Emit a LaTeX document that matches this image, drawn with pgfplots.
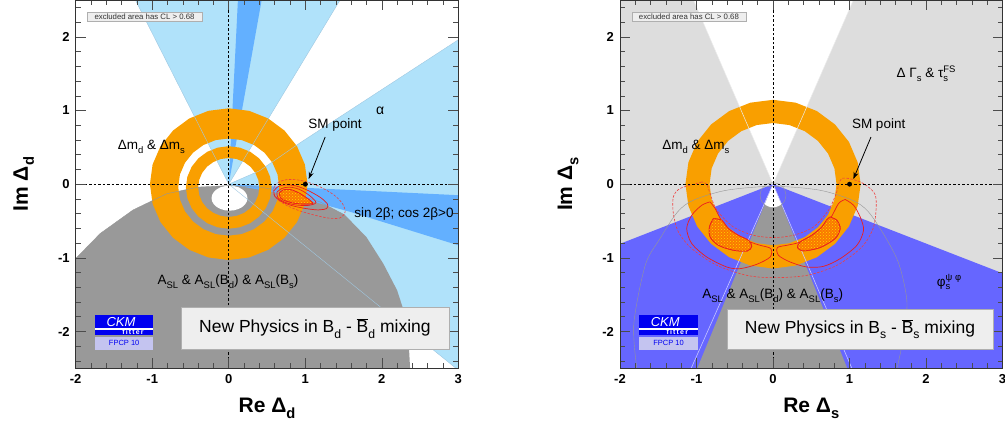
\documentclass[border=0pt]{standalone}
\usepackage{pgfplots}
\pgfplotsset{compat=1.18}
\usepackage{fontspec}
\setmainfont{Liberation Sans}
\usetikzlibrary{patterns,arrows.meta}

\definecolor{lblue}{RGB}{176,226,250}
\definecolor{dblue}{RGB}{99,176,255}
\definecolor{aslgray}{RGB}{153,153,153}
\definecolor{ring}{RGB}{249,159,0}
\definecolor{phiblue}{RGB}{102,102,255}
\definecolor{lgray}{RGB}{221,221,221}
\definecolor{boxgray}{RGB}{238,238,238}
\definecolor{boxedge}{RGB}{175,175,175}
\definecolor{ckmblue}{RGB}{0,0,240}
\definecolor{ckmlav}{RGB}{196,196,240}
\definecolor{redcl}{RGB}{235,30,30}
\definecolor{hatch}{RGB}{250,120,0}
\definecolor{hatchdot}{RGB}{255,215,0}
\definecolor{edgeblue}{RGB}{160,200,225}
\definecolor{edgegray}{RGB}{150,150,150}
\definecolor{lav}{RGB}{200,200,255}

\newcommand\sub[1]{\raisebox{-0.55ex}{\scalebox{0.7}{#1}}}
\newcommand\sups[1]{\raisebox{0.8ex}{\scalebox{0.7}{#1}}}
\newcommand\lbl{\fontsize{13.5}{13.5}\selectfont}

\newcommand\ckmlogo[1]{%
  \begin{scope}[xshift=#1]
    \fill[ckmblue] (95pt,88pt) rectangle (153.3pt,108pt);
    \fill[white] (95pt,93.4pt) rectangle (153.3pt,94.8pt);
    \node[font=\fontsize{13}{13}\selectfont\itshape, text=white, anchor=base] at (121pt,96.5pt) {CKM};
    \node[font=\fontsize{7}{7}\selectfont\bfseries, text=white, anchor=base] at (133pt,88.6pt) {f\,i\,t\,t\,e\,r};
    \fill[ckmlav] (95pt,73pt) rectangle (153.3pt,86.3pt);
    \node[font=\fontsize{7.5}{7.5}\selectfont, text=ckmblue] at (124.2pt,79.6pt) {FPCP 10};
  \end{scope}}

\pgfplotsset{
  ckm/.style={
    scale only axis, width=382.6pt, height=368.3pt,
    xmin=-2, xmax=3, ymin=-2.5, ymax=2.5,
    xtick={-2,-1,0,1,2,3}, xticklabels={-2,-1,0,1,2,3},
    ytick={-2,-1,0,1,2}, yticklabels={-2,-1,0,1,2},
    minor xtick={-1.8,-1.6,...,2.81},
    minor ytick={-2.4,-2.2,...,2.41},
    major tick length=10pt, minor tick length=5pt,
    tick style={black!70, line width=0.5pt},
    axis line style={black!80, line width=0.6pt},
    ticklabel style={font=\fontsize{13}{13}\selectfont\bfseries},
    xticklabel style={yshift=-3pt},
    yticklabel style={xshift=-2.5pt},
    label style={font=\fontsize{21}{21}\selectfont\bfseries},
    xlabel style={at={(axis description cs:0.5,-0.1187)}, anchor=base},
    ylabel style={at={(axis description cs:-0.125,0.5)}, anchor=base},
    axis on top,
  },
  zeroline/.style={black, line width=0.5pt, dash pattern=on 2.5pt off 2pt},
  cl95/.style={redcl, line width=0.7pt, smooth},
  cl99/.style={redcl!85, line width=0.6pt, smooth, dash pattern=on 2.5pt off 1.5pt},
  cl68/.style={draw=redcl, line width=0.6pt, smooth, fill=hatch,
    postaction={pattern=crosshatch dots, pattern color=hatchdot}},
}

\begin{document}
\begin{tikzpicture}
\useasboundingbox (0,0) rectangle (1005pt,423pt);

% ---------------- B_d ----------------
\begin{axis}[ckm, at={(75.7pt,54.7pt)}, anchor=south west,
  xlabel={Re Δ\sub{d}}, ylabel={Im Δ\sub{d}}]

% alpha
\addplot[draw=none, fill=lblue] coordinates {(0,0) (-1.22,2.5) (1.455,2.5) (0,0)};
\addplot[draw=none, fill=lblue] coordinates {(0,0) (0.4,0.18) (0.93,0.56) (3,1.96) (3,-2.5) (2.97,-2.5) (0,0)};
% A_SL
\addplot[draw=none, fill=aslgray] coordinates {(-2,-1.01) (-1.68,-0.67) (-1.25,-0.35) (-0.81,-0.13) (-0.4,-0.04) (0,-0.02) (0.4,-0.04) (0.8,-0.11) (1.19,-0.24) (1.52,-0.42) (1.80,-0.72) (2.02,-1.08) (2.20,-1.44) (2.30,-1.76) (2.35,-2.12) (2.37,-2.5) (-2,-2.5) (-2,-1.01)};
\addplot[draw=none, fill=white] coordinates {(0.245,-0.19) (0.237,-0.146) (0.2135,-0.105) (0.1762,-0.0698) (0.1275,-0.0428) (0.0708,-0.0258) (0.01,-0.02) (-0.0508,-0.0258) (-0.1075,-0.0428) (-0.1562,-0.0698) (-0.1935,-0.105) (-0.217,-0.146) (-0.225,-0.19) (-0.217,-0.234) (-0.1935,-0.275) (-0.1562,-0.3102) (-0.1075,-0.3372) (-0.0508,-0.3542) (0.01,-0.36) (0.0708,-0.3542) (0.1275,-0.3372) (0.1762,-0.3102) (0.2135,-0.275) (0.237,-0.234) (0.245,-0.19)};
% sin 2beta
\addplot[draw=none, fill=dblue] coordinates {(0,0) (3,-0.15) (3,-0.83) (1.6,-0.38) (0.8,-0.15) (0,0)};
\addplot[draw=none, fill=dblue] coordinates {(0,0) (0.12,2.5) (0.43,2.5) (0,0)};
% Delta m_d & Delta m_s
\addplot[draw=none, fill=ring] coordinates {(1.03,0) (0.995,0.267) (0.892,0.515) (0.728,0.728) (0.515,0.892) (0.267,0.995) (0,1.03) (-0.267,0.995) (-0.515,0.892) (-0.728,0.728) (-0.892,0.515) (-0.995,0.267) (-1.03,0) (-0.995,-0.267) (-0.892,-0.515) (-0.728,-0.728) (-0.515,-0.892) (-0.267,-0.995) (0,-1.03) (0.267,-0.995) (0.515,-0.892) (0.728,-0.728) (0.892,-0.515) (0.995,-0.267) (1.03,0)
 (0.66,-0.04) (0.638,-0.211) (0.572,-0.37) (0.467,-0.507) (0.33,-0.612) (0.171,-0.678) (0,-0.70) (-0.171,-0.678) (-0.33,-0.612) (-0.467,-0.507) (-0.572,-0.37) (-0.638,-0.211) (-0.66,-0.04) (-0.638,0.131) (-0.572,0.29) (-0.467,0.427) (-0.33,0.532) (-0.171,0.598) (0,0.62) (0.171,0.598) (0.33,0.532) (0.467,0.427) (0.572,0.29) (0.638,0.131) (0.66,-0.04)};
\addplot[draw=none, fill=ring] coordinates {(0.56,-0.045) (0.541,0.1) (0.485,0.235) (0.396,0.351) (0.28,0.44) (0.145,0.496) (0,0.515) (-0.145,0.496) (-0.28,0.44) (-0.396,0.351) (-0.485,0.235) (-0.541,0.1) (-0.56,-0.045) (-0.541,-0.19) (-0.485,-0.325) (-0.396,-0.441) (-0.28,-0.53) (-0.145,-0.586) (0,-0.605) (0.145,-0.586) (0.28,-0.53) (0.396,-0.441) (0.485,-0.325) (0.541,-0.19) (0.56,-0.045)
 (0.40,-0.045) (0.386,-0.149) (0.346,-0.245) (0.283,-0.328) (0.2,-0.391) (0.104,-0.431) (0,-0.445) (-0.104,-0.431) (-0.2,-0.391) (-0.283,-0.328) (-0.346,-0.245) (-0.386,-0.149) (-0.40,-0.045) (-0.386,0.059) (-0.346,0.155) (-0.283,0.238) (-0.2,0.301) (-0.104,0.341) (0,0.355) (0.104,0.341) (0.2,0.301) (0.283,0.238) (0.346,0.155) (0.386,0.059) (0.40,-0.045)};
% contour edges
\addplot[edgeblue, line width=0.4pt] coordinates {(-1.22,2.5) (0,0) (1.455,2.5)};
\addplot[edgeblue, line width=0.4pt] coordinates {(3,1.96) (0.93,0.56) (0.4,0.18) (0,0) (2.97,-2.5)};
\addplot[edgegray, line width=0.4pt] coordinates {(-2,-1.01) (-1.68,-0.67) (-1.25,-0.35) (-0.81,-0.13) (-0.4,-0.04) (0,-0.02) (0.4,-0.04) (0.8,-0.11) (1.19,-0.24) (1.52,-0.42)};
% global fit
\addplot[cl99] coordinates {(0.60,-0.02) (0.66,0.03) (0.75,0.06) (0.88,0.06) (1.02,0.03) (1.20,-0.04) (1.38,-0.15) (1.49,-0.27) (1.52,-0.38) (1.45,-0.46) (1.30,-0.46) (1.12,-0.42) (0.92,-0.36) (0.76,-0.29) (0.64,-0.21) (0.58,-0.12) (0.60,-0.02)};
\addplot[cl95] coordinates {(0.59,-0.09) (0.65,-0.03) (0.74,-0.01) (0.86,-0.02) (0.98,-0.06) (1.10,-0.12) (1.21,-0.19) (1.29,-0.27) (1.28,-0.33) (1.17,-0.35) (1.00,-0.33) (0.82,-0.29) (0.68,-0.23) (0.60,-0.16) (0.59,-0.09)};
\addplot[cl95] coordinates {(0.63,-0.11) (0.69,-0.06) (0.79,-0.04) (0.92,-0.07) (1.05,-0.15) (1.14,-0.25) (1.03,-0.29) (0.86,-0.28) (0.72,-0.24) (0.64,-0.18) (0.63,-0.11)};
\addplot[cl68] coordinates {(0.66,-0.12) (0.71,-0.08) (0.79,-0.07) (0.90,-0.11) (1.01,-0.18) (1.10,-0.26) (0.98,-0.27) (0.86,-0.26) (0.75,-0.23) (0.68,-0.19) (0.66,-0.12)};
% axes through origin
\addplot[zeroline] coordinates {(-2,0) (3,0)};
\addplot[zeroline] coordinates {(0,-2.5) (0,2.5)};
% SM point
\addplot[black, line width=0.8pt, -{Stealth[length=7pt,width=5pt]}] coordinates {(1.26,0.64) (1.045,0.07)};
\addplot[only marks, mark=*, mark size=2.2pt, black] coordinates {(1,0)};

\node[font=\fontsize{14}{14}\selectfont] at (axis cs:1.98,1.0) {α};
\node[font=\lbl] at (axis cs:1.39,0.80) {SM point};
\node[font=\lbl] at (axis cs:-1.01,0.50) {Δm\sub{d} \& Δm\sub{s}};
\node[font=\lbl] at (axis cs:2.29,-0.40) {sin 2β; cos 2β>0};
\node[font=\lbl] at (axis cs:-0.01,-1.32) {A\sub{SL} \& A\sub{SL}(B\sub{d}) \& A\sub{SL}(B\sub{s})};
\end{axis}

% ---------------- B_s ----------------
\begin{axis}[ckm, at={(620pt,54.7pt)}, anchor=south west,
  xlabel={Re Δ\sub{s}}, ylabel={Im Δ\sub{s}}]

% Delta Gamma_s & tau_s^FS
\addplot[draw=none, fill=lgray] coordinates {(0,0) (-1.04,2.5) (-2,2.5) (-2,-2.5) (3,-2.5) (3,2.5) (1.05,2.5) (0,0)};
% phi_s
\addplot[draw=none, fill=phiblue] coordinates {(0,0) (-2,-0.81) (-2,-2.5) (3,-2.5) (3,-1.21) (0,0)};
% A_SL
\addplot[draw=none, fill=aslgray] coordinates {(0,0) (-0.99,-2.5) (0.97,-2.5) (0,0)};
\addplot[draw=none, fill=white] coordinates {(0,0) (-0.111,-0.278) (-0.058,-0.31) (0,-0.32) (0.058,-0.31) (0.111,-0.278) (0,0)};
% Delta m_d & Delta m_s
\addplot[draw=none, fill=ring] coordinates {(1.145,0) (1.106,0.296) (0.992,0.573) (0.81,0.81) (0.573,0.992) (0.296,1.106) (0,1.145) (-0.296,1.106) (-0.573,0.992) (-0.81,0.81) (-0.992,0.573) (-1.106,0.296) (-1.145,0) (-1.106,-0.296) (-0.992,-0.573) (-0.81,-0.81) (-0.573,-0.992) (-0.296,-1.106) (0,-1.145) (0.296,-1.106) (0.573,-0.992) (0.81,-0.81) (0.992,-0.573) (1.106,-0.296) (1.145,0)
 (0.83,0) (0.802,-0.215) (0.719,-0.415) (0.587,-0.587) (0.415,-0.719) (0.215,-0.802) (0,-0.83) (-0.215,-0.802) (-0.415,-0.719) (-0.587,-0.587) (-0.719,-0.415) (-0.802,-0.215) (-0.83,0) (-0.802,0.215) (-0.719,0.415) (-0.587,0.587) (-0.415,0.719) (-0.215,0.802) (0,0.83) (0.215,0.802) (0.415,0.719) (0.587,0.587) (0.719,0.415) (0.802,0.215) (0.83,0)};
% contour edges
\addplot[white!85!gray, line width=0.5pt] coordinates {(-1.04,2.5) (0,0) (1.05,2.5)};
\addplot[lav, line width=0.6pt] coordinates {(-1.07,-2.5) (0,0) (1.03,-2.5)};
\addplot[edgegray, line width=0.4pt, smooth] coordinates {(-1.78,-2.5) (-1.82,-1.9) (-1.67,-1.1) (-1.477,-0.739) (-1.25,-0.38) (-1.041,-0.218) (-0.604,-0.082) (0,-0.03) (0.6,-0.08) (1.04,-0.22) (1.25,-0.38) (1.48,-0.74) (1.65,-1.1) (1.75,-1.6) (1.70,-2.1) (1.62,-2.5)};
\addplot[edgegray, line width=0.4pt, smooth] coordinates {(0.17,-0.15) (0.147,-0.065) (0.085,-0.003) (0,0.02) (-0.085,-0.003) (-0.147,-0.065) (-0.17,-0.15) (-0.147,-0.235) (-0.085,-0.297) (0,-0.32) (0.085,-0.297) (0.147,-0.235) (0.17,-0.15)};
% global fit
\addplot[cl99] coordinates {(-0.93,0.03) (-0.997,0.010) (-1.215,-0.059) (-1.303,-0.172) (-1.303,-0.399) (-1.237,-0.649) (-1.062,-0.875) (-0.735,-1.102) (-0.343,-1.238) (0.005,-1.270) (0.442,-1.238) (0.834,-1.102) (1.161,-0.853) (1.314,-0.581) (1.349,-0.263) (1.314,-0.105) (1.139,0.031) (0.900,0.077) (0.826,-0.127) (0.725,-0.354) (0.528,-0.581) (0.267,-0.694) (0.005,-0.725) (-0.257,-0.694) (-0.518,-0.581) (-0.735,-0.354) (-0.823,-0.127) (-0.866,0.0) (-0.93,0.03)};
\addplot[cl95] coordinates {(-0.823,-0.241) (-0.931,-0.286) (-1.062,-0.422) (-1.128,-0.603) (-1.062,-0.807) (-0.866,-0.989) (-0.604,-1.125) (-0.430,-1.147) (-0.212,-1.088) (-0.038,-0.989) (-0.029,-0.875) (-0.170,-0.830) (-0.299,-0.785) (-0.474,-0.694) (-0.649,-0.535) (-0.757,-0.331) (-0.823,-0.241)};
\addplot[cl95] coordinates {(0.943,-0.208) (1.052,-0.286) (1.139,-0.445) (1.183,-0.626) (1.096,-0.830) (0.878,-1.011) (0.659,-1.116) (0.442,-1.125) (0.224,-1.057) (0.071,-0.966) (0.057,-0.861) (0.181,-0.830) (0.354,-0.785) (0.573,-0.649) (0.747,-0.467) (0.856,-0.263) (0.943,-0.208)};
\addplot[cl68] coordinates {(-0.780,-0.467) (-0.832,-0.581) (-0.823,-0.717) (-0.714,-0.830) (-0.518,-0.898) (-0.335,-0.907) (-0.277,-0.844) (-0.321,-0.762) (-0.453,-0.694) (-0.583,-0.603) (-0.670,-0.490) (-0.780,-0.467)};
\addplot[cl68] coordinates {(0.747,-0.445) (0.834,-0.490) (0.878,-0.603) (0.812,-0.739) (0.616,-0.861) (0.398,-0.907) (0.319,-0.861) (0.354,-0.785) (0.507,-0.694) (0.638,-0.581) (0.704,-0.480) (0.747,-0.445)};
% axes through origin
\addplot[zeroline] coordinates {(-2,0) (3,0)};
\addplot[zeroline] coordinates {(0,-2.5) (0,2.5)};
% SM point
\addplot[black, line width=0.8pt, -{Stealth[length=7pt,width=5pt]}] coordinates {(1.28,0.64) (1.05,0.07)};
\addplot[only marks, mark=*, mark size=2.2pt, black] coordinates {(1,0)};

\node[font=\lbl] at (axis cs:1.38,0.80) {SM point};
\node[font=\lbl] at (axis cs:-1.01,0.50) {Δm\sub{d} \& Δm\sub{s}};
\node[font=\lbl] at (axis cs:2.0,1.50) {Δ Γ\sub{s} \& τ\rlap{\sub{s}}\sups{FS}};
\node[font=\lbl] at (axis cs:2.30,-1.33) {φ\rlap{\sub{s}}\sups{ψ φ}};
\node[font=\lbl] at (axis cs:-0.005,-1.52) {A\sub{SL} \& A\sub{SL}(B\sub{d}) \& A\sub{SL}(B\sub{s})};
\end{axis}

% legend boxes and logos
\node[draw=boxedge, fill=boxgray, minimum width=114.4pt, minimum height=8.7pt, inner sep=0pt,
  font=\fontsize{7.8}{7.8}\selectfont, text=black!80] at (144.5pt,406.4pt) {excluded area has CL > 0.68};
\node[draw=boxedge, fill=boxgray, minimum width=114.4pt, minimum height=8.7pt, inner sep=0pt,
  font=\fontsize{7.8}{7.8}\selectfont, text=black!80] at (688.9pt,406.4pt) {excluded area has CL > 0.68};

\node[draw=boxedge, fill=boxgray, minimum width=268.3pt, minimum height=41.6pt, inner sep=0pt,
  font=\fontsize{17.5}{17.5}\selectfont] at (314.9pt,94.5pt) {New Physics in B\sub{d} - $\overline{\mbox{B}}$\sub{d} mixing};
\node[draw=boxedge, fill=boxgray, minimum width=265.4pt, minimum height=40.5pt, inner sep=0pt,
  font=\fontsize{17.5}{17.5}\selectfont] at (860pt,93.9pt) {New Physics in B\sub{s} - $\overline{\mbox{B}}$\sub{s} mixing};

\ckmlogo{0pt}
\ckmlogo{544.3pt}
\end{tikzpicture}
\end{document}
